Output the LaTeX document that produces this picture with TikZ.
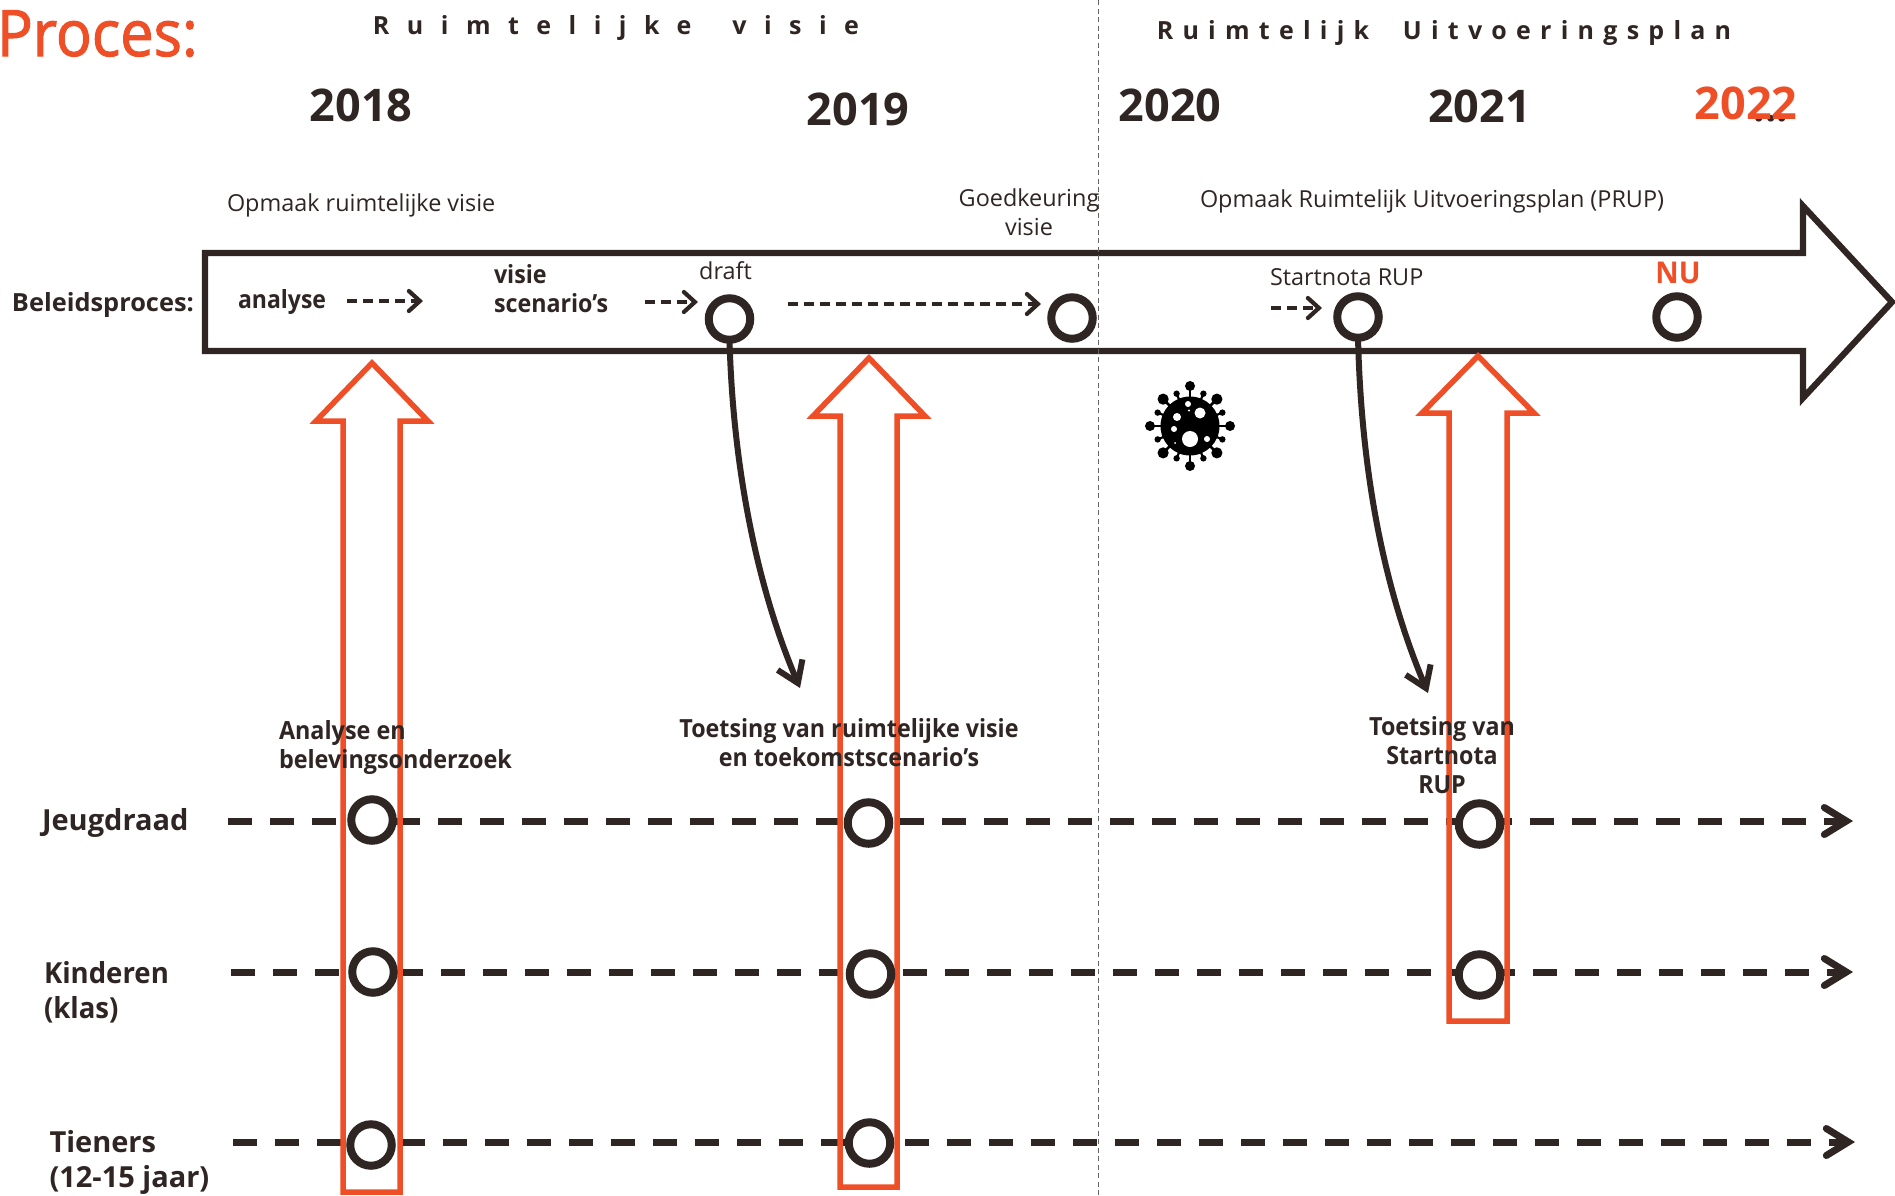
\documentclass[tikz,border=0pt]{standalone}
\usepackage{fontspec}
\setmainfont{Open Sans}
\usetikzlibrary{arrows.meta}
\definecolor{ink}{HTML}{2F2523}
\definecolor{oranje}{HTML}{EE4F27}
\tikzset{
  x=1pt,y=-1pt,
  txt/.style={inner sep=0pt,outer sep=0pt,text=ink,align=center},
  reg/.style={txt,font=\fontsize{23.4}{29}\selectfont},
  lbl/.style={txt,font=\fontsize{25}{29}\selectfont\bfseries\addfontfeature{FakeStretch=#1}},
  lbl/.default=0.93,
  rowlbl/.style={txt,align=left,font=\fontsize{29}{35}\selectfont\bfseries\addfontfeature{FakeStretch=#1}},
  yearlbl/.style={txt,font=\fontsize{45}{45}\selectfont\bfseries},
  spacedA/.style={txt,font=\fontsize{25}{25}\selectfont\bfseries\addfontfeature{LetterSpace=70}},
  spacedB/.style={txt,font=\fontsize{25}{25}\selectfont\bfseries\addfontfeature{LetterSpace=37}},
  ring/.style={circle,draw=ink,line width=8pt,fill=white,minimum size=41.5pt,inner sep=0pt,outer sep=0pt},
  upbox/.style={draw=oranje,line width=5.5pt,miter limit=10},
  bigline/.style={ink,line width=6.2pt,line join=miter,miter limit=10},
  rowline/.style={ink,line width=7pt,dash pattern=on 24pt off 18pt,-{Straight Barb[length=22pt,width=27pt,line cap=round]}},
  smallline/.style={ink,line width=4.2pt,dash pattern=on 10pt off 6pt,-{Straight Barb[length=11pt,width=20pt,line cap=round]}},
  curveline/.style={ink,line width=6pt,line cap=round,-{Straight Barb[length=20pt,width=27pt]}},
}
\begin{document}
\begin{tikzpicture}
\useasboundingbox (0,0) rectangle (1895,1195);
\fill[white] (0,0) rectangle (1895,1195);

% row lines
\coordinate (r1s) at (228,821); \coordinate (r1e) at (1853,821);
\coordinate (r2s) at (231,972); \coordinate (r2e) at (1853,972);
\coordinate (r3s) at (233,1142); \coordinate (r3e) at (1855,1142);
\draw[rowline] (r1s) -- (r1e);
\draw[rowline] (r2s) -- (r2e);
\draw[rowline] (r3s) -- (r3e);

% divider
\coordinate (divtop) at (1098.5,0); \coordinate (divbot) at (1098.5,1195);

% big arrow
\draw[bigline] (205,253) -- (1803,253) -- (1803,206) -- (1892,302) -- (1803,398) -- (1803,351) -- (205,351) -- cycle;
\draw[gray!80!black,line width=1.3pt,dash pattern=on 5pt off 3.5pt] (divtop) -- (divbot);

% orange up arrows
\draw[upbox] (343,1192) -- (343,421) -- (316,421) -- (372,363) -- (428,421) -- (400,421) -- (400,1192) -- cycle;
\draw[upbox] (840,1187) -- (840,416) -- (813,416) -- (869,358) -- (925,416) -- (897,416) -- (897,1187) -- cycle;
\draw[upbox] (1449,1021) -- (1449,413) -- (1422,413) -- (1478,356) -- (1534,413) -- (1507,413) -- (1507,1021) -- cycle;

% rings on the rows
\node[ring] (a1) at (372,820) {};
\node[ring] (a2) at (868.5,823) {};
\node[ring] (a3) at (1479.5,824) {};
\node[ring] (b1) at (373,972) {};
\node[ring] (b2) at (870.5,974) {};
\node[ring] (b3) at (1479.5,975) {};
\node[ring] (c1) at (371,1145) {};
\node[ring] (c2) at (869.5,1143) {};

% rings on the policy arrow
\node[ring] (draft) at (729.5,319) {};
\node[ring] (goed) at (1072,318) {};
\node[ring] (start) at (1358,317) {};
\node[ring] (nu) at (1677,317) {};

% small dashed arrows
\coordinate (s1a) at (347,301); \coordinate (s1b) at (423,301);
\coordinate (s2a) at (645,302); \coordinate (s2b) at (698,302);
\coordinate (s3a) at (787.5,304); \coordinate (s3b) at (1041,304);
\coordinate (s4a) at (1270.5,308); \coordinate (s4b) at (1322,308);
\draw[smallline] (s1a) -- (s1b);
\draw[smallline] (s2a) -- (s2b);
\draw[smallline] (s3a) -- (s3b);
\draw[smallline] (s4a) -- (s4b);

% curved arrows
\coordinate (t1) at (800,688);
\coordinate (t2) at (1428,693);
\draw[curveline] (draft.south) .. controls (733,470) and (758,590) .. (t1);
\draw[curveline] (start.south) .. controls (1362,500) and (1393,610) .. (t2);

% virus
\begin{scope}[shift={(1190,426)}]
  \fill[black] (0,0) circle (29.5);
  \foreach \a in {0,90,180,270}{
    \draw[black,line width=1.8pt] (0,0) -- (\a:40);
    \fill[black] (\a:40) circle (5);
  }
  \foreach \a in {45,135,225,315}{
    \draw[black,line width=2.6pt] (0,0) -- (\a:38);
    \fill[black] (\a:38) circle (5.6);
  }
  \foreach \a in {22.5,67.5,112.5,157.5,202.5,247.5,292.5,337.5}{
    \draw[black,line width=2.2pt] (0,0) -- (\a:35);
    \fill[black] (\a:35) circle (3.2);
  }
  \fill[white] (0,13) circle (8);
  \fill[white] (10,-13) circle (5.5);
  \fill[white] (-13,-9) circle (4);
  \fill[white] (-2,-22) circle (3);
  \fill[white] (-16,3) circle (3);
  \fill[white] (17,13) circle (3);
  \fill[white] (-1,-15.5) circle (1.2);
  \fill[white] (-15,17) circle (1);
\end{scope}

% texts
\node[txt,text=oranje,anchor=base west,font=\fontsize{64}{64}\selectfont\addfontfeature{FakeStretch=0.93,FakeBold=1.6}] (proc) at (-3,56) {Proces:};
\node[spacedA,anchor=base] (t1h) at (616,34) {Ruimtelijke\hspace*{17pt} visie};
\node[spacedB,anchor=base] (t2h) at (1444,39) {Ruimtelijk\hspace*{18pt} Uitvoeringsplan};

\node[yearlbl,anchor=base] (y18) at (361,121) {2018};
\node[yearlbl,anchor=base] (y19) at (858,125) {2019};
\node[yearlbl,anchor=base] (y20) at (1170,121) {2020};
\node[yearlbl,anchor=base] (y21) at (1479.5,122) {2021};
\node[txt,anchor=base,font=\fontsize{40}{40}\selectfont\bfseries] (dots) at (1771,121) {...};
\node[yearlbl,anchor=base,text=oranje] (y22) at (1746,119) {2022};

\node[reg,anchor=base west] (n1) at (227,211) {Opmaak ruimtelijke visie};
\node[reg] (n2) at (1029,212) {Goedkeuring\\visie};
\node[reg,anchor=base west] (n3) at (1200,207) {Opmaak Ruimtelijk Uitvoeringsplan (PRUP)};
\node[reg,anchor=base] (n4) at (725.5,279) {draft};
\node[reg,anchor=base west] (n5) at (1270,285) {Startnota RUP};

\node[lbl=1.015,anchor=base west] (n6) at (12,311) {Beleidsproces:};
\node[lbl=0.92,anchor=base west] (n7) at (238,308) {analyse};
\node[lbl=0.93,align=left,anchor=west] (n8) at (494,289) {visie\\scenario’s};
\node[txt,text=oranje,anchor=base,font=\fontsize{30}{30}\selectfont\bfseries\addfontfeature{FakeStretch=0.96}] (n9) at (1678,283) {NU};

\node[lbl=0.935,align=left,anchor=west] (n10) at (279,747) {Analyse en\\belevingsonderzoek};
\node[lbl] (n11) at (849,743) {Toetsing van ruimtelijke visie\\en toekomstscenario’s};
\node[lbl=0.93] (n12) at (1442,755) {Toetsing van\\Startnota\\RUP};

\node[rowlbl=1.0,anchor=base west] (n13) at (42,830) {Jeugdraad};
\node[rowlbl=0.95,anchor=west] (n14) at (44,992.5) {Kinderen\\(klas)};
\node[rowlbl=1.0,anchor=west] (n15) at (49.5,1162.5) {Tieners\\(12-15 jaar)};
\end{tikzpicture}
\end{document}
